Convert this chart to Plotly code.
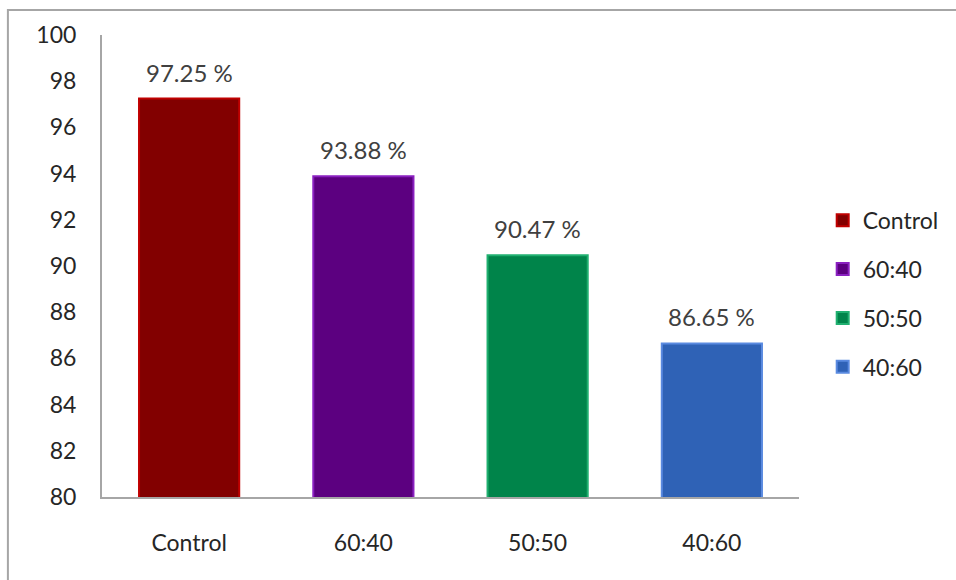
import plotly.graph_objects as go

categories = ["Control", "60:40", "50:50", "40:60"]
values = [97.25, 93.88, 90.47, 86.65]
labels = ["97.25 %", "93.88 %", "90.47 %", "86.65 %"]
colors = ["#820000", "#5c0080", "#00844a", "#2f62b6"]
edge_colors = ["#c00000", "#8a20c0", "#20b070", "#5a8ae0"]
y_ticks = [80, 82, 84, 86, 88, 90, 92, 94, 96, 98, 100]

FONT = "Lato, 'Open Sans', sans-serif"

fig = go.Figure()
for cat, val, col, ec in zip(categories, values, colors, edge_colors):
    fig.add_trace(go.Bar(
        x=[cat], y=[val], name=cat,
        marker=dict(color=col, line=dict(color=ec, width=2)),
        width=0.575, legendgroup=cat,
    ))

for cat, val, lab in zip(categories, values, labels):
    fig.add_annotation(x=cat, y=val, text=lab, showarrow=False,
                       yanchor="bottom", yshift=10, xshift=0,
                       font=dict(size=24, color="#404040", family=FONT))

fig.add_shape(type="rect", xref="paper", yref="paper",
              x0=-0.135, y0=-0.4, x1=1.4, y1=1.054,
              line=dict(color="#a6a6a6", width=2), layer="below")

fig.update_layout(
    width=956, height=580,
    margin=dict(l=102, r=157, t=35, b=83),
    paper_bgcolor="white", plot_bgcolor="white",
    barmode="overlay",
    font=dict(family=FONT, size=23, color="#262626"),
    showlegend=True,
    legend=dict(x=1.034, y=0.44, xanchor="left", yanchor="middle",
                font=dict(size=23, color="#262626", family=FONT),
                tracegroupgap=16, itemwidth=30),
    xaxis=dict(showline=True, linecolor="#a6a6a6", linewidth=2,
               showgrid=False, ticks="", ticklabelstandoff=24,
               tickfont=dict(size=23, color="#262626")),
    yaxis=dict(range=[80, 100], tickvals=y_ticks, showline=True,
               linecolor="#a6a6a6", linewidth=2, showgrid=False,
               zeroline=False, ticks="", ticklabelstandoff=19,
               tickfont=dict(size=23, color="#262626")),
)

fig.write_html("out.html")
